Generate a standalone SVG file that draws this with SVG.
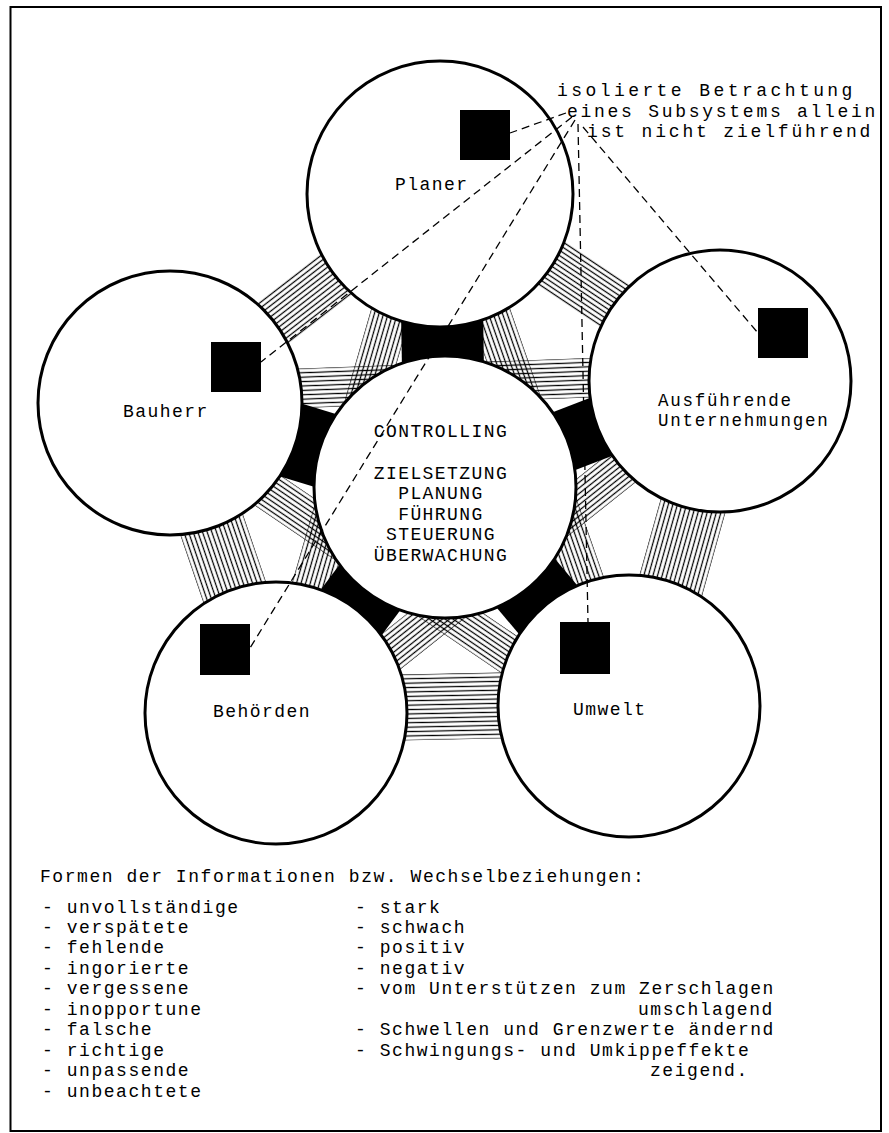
<svg xmlns="http://www.w3.org/2000/svg" width="889" height="1133" viewBox="0 0 889 1133">
<defs>
<pattern id="hatch" patternUnits="userSpaceOnUse" width="10" height="4.4">
<line x1="0" y1="2.2" x2="10" y2="2.2" stroke="#000" stroke-width="1.25"/>
</pattern>
<style>
.band{fill:url(#hatch)}
.strong{fill:#000}
.node{fill:#fff;stroke:#000;stroke-width:3}
.sq{fill:#000}
.lbl{font-family:"Liberation Mono","Courier New",monospace;font-size:18px;letter-spacing:1.44px;fill:#000}
.lbl2{font-family:"Liberation Mono","Courier New",monospace;font-size:17.5px;letter-spacing:1.74px;fill:#000}
.ann{font-family:"Liberation Mono","Courier New",monospace;font-size:18px;letter-spacing:2.6px;fill:#000}
.leg{font-family:"Liberation Mono","Courier New",monospace;font-size:18px;letter-spacing:1.55px;fill:#000}
.dash{fill:none;stroke:#000;stroke-width:1.3;stroke-dasharray:8 5}
</style>
</defs>
<rect width="889" height="1133" fill="#fff"/>
<rect x="10.5" y="7" width="870.5" height="1124" fill="none" stroke="#000" stroke-width="2"/>

<g id="connectors">
<!-- outer ring (adjacent pairs) -->
<rect class="band" x="0" y="-26.4" width="341.4" height="52.8" transform="translate(440 194) rotate(142.26)"/>
<rect class="band" x="0" y="-26.4" width="336.7" height="52.8" transform="translate(440 189) rotate(33.74)"/>
<rect class="band" x="0" y="-33" width="327.6" height="66" transform="translate(170 403) rotate(71.12)"/>
<rect class="band" x="0" y="-33" width="337.5" height="66" transform="translate(728 381) rotate(105.64)"/>
<rect class="band" x="0" y="-33" width="353.1" height="66" transform="translate(276 710) rotate(-1.136)"/>
<!-- diagonals -->
<rect class="band" x="0" y="-19.8" width="540.2" height="39.6" transform="translate(425 194) rotate(106.12)"/>
<rect class="band" x="0" y="-19.8" width="542.4" height="39.6" transform="translate(449 194) rotate(70.73)"/>
<rect class="band" x="0" y="-19.8" width="550.4" height="39.6" transform="translate(170 393) rotate(-2.08)"/>
<rect class="band" x="0" y="-19.8" width="555" height="39.6" transform="translate(170 424) rotate(34.21)"/>
<rect class="band" x="0" y="-19.8" width="567.2" height="39.6" transform="translate(720 390) rotate(141.52)"/>
<!-- strong links to controlling -->
<rect class="strong" x="0" y="-41" width="293" height="82" transform="translate(440 194) rotate(89.02)"/>
<rect class="strong" x="0" y="-38" width="287.5" height="76" transform="translate(170 403) rotate(16.99)"/>
<rect class="strong" x="0" y="-31" width="294.7" height="62" transform="translate(720 381) rotate(158.92)"/>
<rect class="strong" x="0" y="-38" width="282.2" height="76" transform="translate(276 713) rotate(-53.21)"/>
<rect class="strong" x="0" y="-38" width="286" height="76" transform="translate(629 706) rotate(-130.04)"/>
</g>

<g id="controlling">
<circle class="node" cx="445" cy="487" r="131"/>
<text class="lbl" x="441" y="436.5" text-anchor="middle">CONTROLLING</text>
<text class="lbl" x="441" y="478.5" text-anchor="middle">ZIELSETZUNG</text>
<text class="lbl" x="441" y="499" text-anchor="middle">PLANUNG</text>
<text class="lbl" x="441" y="519.5" text-anchor="middle">FÜHRUNG</text>
<text class="lbl" x="441" y="540" text-anchor="middle">STEUERUNG</text>
<text class="lbl" x="441" y="560.5" text-anchor="middle">ÜBERWACHUNG</text>
</g>

<g id="planer">
<circle class="node" cx="440" cy="194" r="133"/>
<rect class="sq" x="460" y="110" width="50" height="50"/>
<text class="lbl" x="395" y="190">Planer</text>
</g>

<g id="bauherr">
<circle class="node" cx="170" cy="403" r="132"/>
<rect class="sq" x="211" y="342" width="50" height="50"/>
<text class="lbl" x="123" y="417">Bauherr</text>
</g>

<g id="ausfuehrende">
<circle class="node" cx="720" cy="381" r="131"/>
<rect class="sq" x="758" y="308" width="50" height="50"/>
<text class="lbl2" x="658" y="406">Ausführende</text>
<text class="lbl2" x="658" y="426">Unternehmungen</text>
</g>

<g id="behoerden">
<circle class="node" cx="276" cy="713" r="131"/>
<rect class="sq" x="200" y="624" width="50" height="51"/>
<text class="lbl" x="213" y="716.5">Behörden</text>
</g>

<g id="umwelt">
<circle class="node" cx="629" cy="706" r="131"/>
<rect class="sq" x="560" y="622" width="50" height="52"/>
<text class="lbl" x="573" y="715">Umwelt</text>
</g>

<g id="annotation-links">
<line class="dash" x1="566" y1="113" x2="510" y2="133"/>
<line class="dash" x1="572" y1="117" x2="261" y2="362"/>
<line class="dash" x1="575" y1="120" x2="250" y2="648"/>
<line class="dash" x1="578" y1="124" x2="588" y2="622"/>
<line class="dash" x1="583" y1="127" x2="758" y2="333"/>
</g>

<g id="annotation">
<text class="ann" x="557" y="96" textLength="298" lengthAdjust="spacing">isolierte Betrachtung</text>
<text class="ann" x="567" y="116.5" textLength="311" lengthAdjust="spacing">eines Subsystems allein</text>
<text class="ann" x="587" y="137" textLength="286" lengthAdjust="spacing">ist nicht zielführend</text>
</g>

<g id="legend">
<text class="leg" x="40" y="881.5">Formen der Informationen bzw. Wechselbeziehungen:</text>
<text class="leg" x="42" y="912.5">- unvollständige</text>
<text class="leg" x="42" y="933">- verspätete</text>
<text class="leg" x="42" y="953">- fehlende</text>
<text class="leg" x="42" y="973.5">- ingorierte</text>
<text class="leg" x="42" y="994">- vergessene</text>
<text class="leg" x="42" y="1014.5">- inopportune</text>
<text class="leg" x="42" y="1035">- falsche</text>
<text class="leg" x="42" y="1055.5">- richtige</text>
<text class="leg" x="42" y="1076">- unpassende</text>
<text class="leg" x="42" y="1096.5">- unbeachtete</text>
<text class="leg" x="355" y="912.5">- stark</text>
<text class="leg" x="355" y="933">- schwach</text>
<text class="leg" x="355" y="953">- positiv</text>
<text class="leg" x="355" y="973.5">- negativ</text>
<text class="leg" x="355" y="994">- vom Unterstützen zum Zerschlagen</text>
<text class="leg" x="638" y="1014.5">umschlagend</text>
<text class="leg" x="355" y="1035">- Schwellen und Grenzwerte ändernd</text>
<text class="leg" x="355" y="1055.5">- Schwingungs- und Umkippeffekte</text>
<text class="leg" x="650" y="1076">zeigend.</text>
</g>
</svg>
